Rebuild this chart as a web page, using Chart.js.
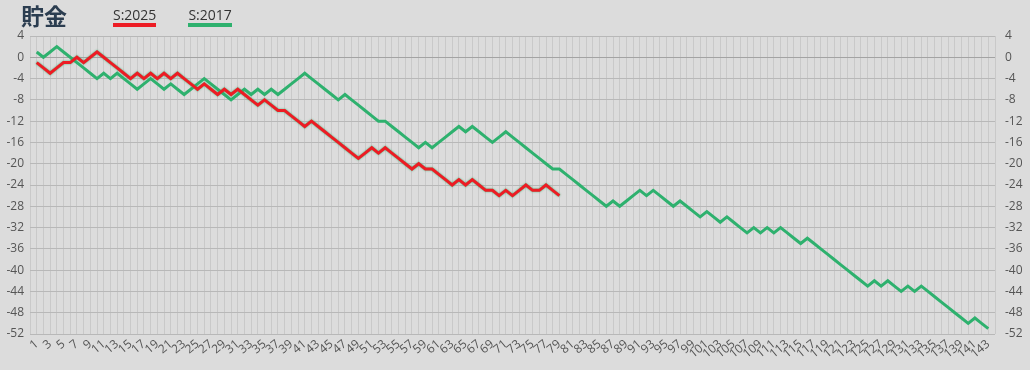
<!DOCTYPE html>
<html lang="ja">
<head>
<meta charset="utf-8">
<title>貯金</title>
<script src="https://cdn.jsdelivr.net/npm/chart.js@4.4.1/dist/chart.umd.min.js"></script>
<style>
  html, body { margin: 0; padding: 0; background: #dcdcdc; }
  #wrap { position: relative; width: 1030px; height: 370px; overflow: hidden; }
  #chart { position: absolute; left: 0; top: 0; }
  #title {
    position: absolute; left: 21px; top: -2px;
    font: bold 23px 'Noto Sans CJK JP', 'Noto Sans', sans-serif;
    color: #2b3d50; letter-spacing: 0;
  }
  #legend { position: absolute; left: 113px; top: 6px; display: flex; gap: 32px; }
  .lg-item {
    font: 14px 'Open Sans', 'Noto Sans', sans-serif; color: #333;
    border-bottom: 4px solid; line-height: 17px; padding-bottom: 0;
  }
</style>
</head>
<body>
<div id="wrap">
  <canvas id="chart" width="1030" height="370"></canvas>
  <div id="title">貯金</div>
  <div id="legend"></div>
</div>
<script>
// ── Data ────────────────────────────────────────────────────────────────
const SERIES_NAMES = ['S:2025', 'S:2017'];

const s2025 = [
  -1, -2, -3, -2, -1, -1, 0, -1, 0, 1,
  0, -1, -2, -3, -4, -3, -4, -3, -4, -3,
  -4, -3, -4, -5, -6, -5, -6, -7, -6, -7,
  -6, -7, -8, -9, -8, -9, -10, -10, -11, -12,
  -13, -12, -13, -14, -15, -16, -17, -18, -19, -18,
  -17, -18, -17, -18, -19, -20, -21, -20, -21, -21,
  -22, -23, -24, -23, -24, -23, -24, -25, -25, -26,
  -25, -26, -25, -24, -25, -25, -24, -25, -26,
];

const s2017 = [
  1, 0, 1, 2, 1, 0, -1, -2, -3, -4,
  -3, -4, -3, -4, -5, -6, -5, -4, -5, -6,
  -5, -6, -7, -6, -5, -4, -5, -6, -7, -8,
  -7, -6, -7, -6, -7, -6, -7, -6, -5, -4,
  -3, -4, -5, -6, -7, -8, -7, -8, -9, -10,
  -11, -12, -12, -13, -14, -15, -16, -17, -16, -17,
  -16, -15, -14, -13, -14, -13, -14, -15, -16, -15,
  -14, -15, -16, -17, -18, -19, -20, -21, -21, -22,
  -23, -24, -25, -26, -27, -28, -27, -28, -27, -26,
  -25, -26, -25, -26, -27, -28, -27, -28, -29, -30,
  -29, -30, -31, -30, -31, -32, -33, -32, -33, -32,
  -33, -32, -33, -34, -35, -34, -35, -36, -37, -38,
  -39, -40, -41, -42, -43, -42, -43, -42, -43, -44,
  -43, -44, -43, -44, -45, -46, -47, -48, -49, -50,
  -49, -50, -51,
];

// axis range: day 1..143 with one empty slot each side
const X_MIN = 0;
const X_MAX = 144;
const Y_MIN = -52;
const Y_MAX = 4;
const Y_STEP = 4;

// ── Style ───────────────────────────────────────────────────────────────
const COLORS = { s2025: '#ed1c24', s2017: '#2eb16e' };
const TICK_FONT = { family: "'Open Sans', 'Noto Sans', sans-serif", size: 12 };
const TICK_COLOR = '#555';

const toPoints = (arr) => arr.map((v, i) => ({ x: i + 1, y: v }));

/** thin green halo around the red line, as in the source */
const haloPlugin = {
  id: 'halo',
  beforeDatasetDraw(chart, args) {
    if (args.index !== 0) return;
    const ctx = chart.ctx;
    ctx.save();
    ctx.shadowColor = 'rgba(46,177,110,0.9)';
    ctx.shadowBlur = 2;
  },
  afterDatasetDraw(chart, args) {
    if (args.index !== 0) return;
    chart.ctx.restore();
  },
};

const chart = new Chart(document.getElementById('chart'), {
  type: 'line',
  data: {
    datasets: [
      {
        label: SERIES_NAMES[0],
        data: toPoints(s2025),
        borderColor: COLORS.s2025,
        backgroundColor: COLORS.s2025,
        borderWidth: 3,
        pointRadius: 0,
        tension: 0,
        yAxisID: 'y',
      },
      {
        label: SERIES_NAMES[1],
        data: toPoints(s2017),
        borderColor: COLORS.s2017,
        backgroundColor: COLORS.s2017,
        borderWidth: 3,
        pointRadius: 0,
        tension: 0,
        yAxisID: 'y',
      },
    ],
  },
  options: {
    responsive: false,
    devicePixelRatio: 1,
    animation: false,
    layout: { padding: { top: 36, left: 0, right: 0, bottom: 0 } },
    plugins: {
      legend: { display: false },
      tooltip: { enabled: false },
    },
    scales: {
      x: {
        type: 'linear',
        min: X_MIN,
        max: X_MAX,
        afterFit: (s) => { s.height = 36; },
        afterBuildTicks: (s) => {
          const t = [];
          for (let v = X_MIN; v <= X_MAX; v++) t.push({ value: v });
          s.ticks = t;
        },
        ticks: {
          autoSkip: false,
          minRotation: 40,
          maxRotation: 40,
          padding: 3,
          font: TICK_FONT,
          color: TICK_COLOR,
          callback: (v) => (v % 2 === 1 ? String(v) : ''),
        },
        grid: { color: '#c9c9c9', lineWidth: 1, drawTicks: false },
        border: { display: false },
      },
      y: {
        position: 'left',
        min: Y_MIN,
        max: Y_MAX,
        afterFit: (s) => { s.width = 30; },
        ticks: { stepSize: Y_STEP, padding: 6, font: TICK_FONT, color: TICK_COLOR },
        grid: {
          color: (c) => (c.tick && c.tick.value === 0 ? '#a3a3a3' : '#b8b8b8'),
          lineWidth: 1,
          drawTicks: false,
        },
        border: { display: false },
      },
      y2: {
        position: 'right',
        min: Y_MIN,
        max: Y_MAX,
        afterFit: (s) => { s.width = 35; },
        ticks: { stepSize: Y_STEP, padding: 10, font: TICK_FONT, color: TICK_COLOR },
        grid: { display: false, drawTicks: false },
        border: { display: false },
      },
    },
  },
  plugins: [haloPlugin],
});

// ── Legend (underlined names) ─────────────────────────────────────────────
const legendEl = document.getElementById('legend');
chart.data.datasets.forEach((ds) => {
  const item = document.createElement('span');
  item.className = 'lg-item';
  item.textContent = ds.label;
  item.style.borderBottomColor = ds.borderColor;
  legendEl.appendChild(item);
});
</script>
</body>
</html>
